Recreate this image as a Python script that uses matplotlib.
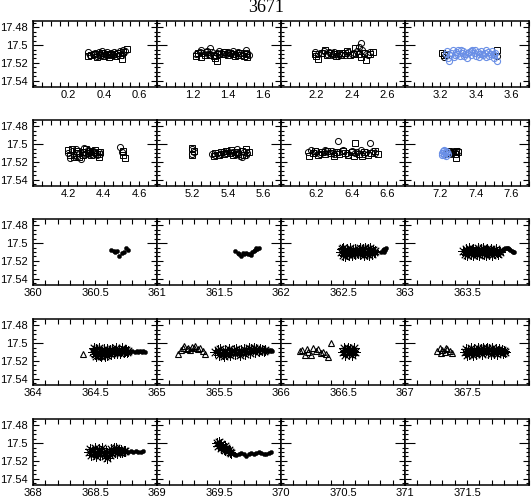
import matplotlib
matplotlib.use('Agg')
import matplotlib.pyplot as plt
from matplotlib.ticker import FixedLocator, MultipleLocator

plt.rcParams['font.family'] = ['Liberation Sans', 'DejaVu Sans']

# panel x-windows (start of each window)
row_starts = [[0, 1, 2, 3], [4, 5, 6, 7], [360, 361, 362, 363],
              [364, 365, 366, 367], [368, 369, 370, 371]]
row_spans = [0.7, 0.7, 1.0, 1.0, 1.0]
y_ticks = [17.48, 17.50, 17.52, 17.54]
y_labels = ['17.48', '17.5', '17.52', '17.54']

BLUE = '#6a8fe6'

# ---- rows 1-2: open circles / squares ----
c0x = [0.31, 0.32, 0.34, 0.35, 0.36, 0.37, 0.38, 0.39, 0.40, 0.41, 0.42, 0.43, 0.44, 0.45, 0.46, 0.47, 0.48, 0.49, 0.50, 0.51, 0.52]
c0y = [17.508, 17.511, 17.510, 17.509, 17.512, 17.508, 17.510, 17.507, 17.509, 17.511, 17.508, 17.510, 17.509, 17.511, 17.508, 17.510, 17.509, 17.507, 17.511, 17.506, 17.507]
s0x = [0.31, 0.33, 0.35, 0.36, 0.38, 0.39, 0.40, 0.42, 0.43, 0.44, 0.46, 0.47, 0.48, 0.49, 0.50, 0.51, 0.53]
s0y = [17.512, 17.511, 17.510, 17.513, 17.511, 17.509, 17.512, 17.510, 17.513, 17.511, 17.510, 17.512, 17.509, 17.511, 17.516, 17.508, 17.504]

c1x = [1.22, 1.24, 1.25, 1.26, 1.28, 1.29, 1.30, 1.31, 1.33, 1.34, 1.35, 1.36, 1.38, 1.39, 1.40, 1.42, 1.43, 1.44, 1.45, 1.46, 1.48, 1.49, 1.50, 1.51, 1.52]
c1y = [17.510, 17.508, 17.505, 17.509, 17.507, 17.510, 17.503, 17.508, 17.511, 17.509, 17.507, 17.509, 17.508, 17.510, 17.508, 17.509, 17.507, 17.510, 17.509, 17.508, 17.511, 17.509, 17.505, 17.509, 17.511]
s1x = [1.22, 1.23, 1.25, 1.27, 1.28, 1.30, 1.32, 1.33, 1.34, 1.35, 1.37, 1.38, 1.40, 1.41, 1.43, 1.44, 1.46, 1.47, 1.49, 1.50, 1.51]
s1y = [17.512, 17.509, 17.513, 17.511, 17.508, 17.511, 17.512, 17.514, 17.518, 17.510, 17.510, 17.508, 17.511, 17.509, 17.510, 17.512, 17.511, 17.509, 17.512, 17.510, 17.513]

c2x = [2.19, 2.21, 2.23, 2.24, 2.26, 2.27, 2.29, 2.30, 2.32, 2.33, 2.35, 2.36, 2.38, 2.40, 2.41, 2.43, 2.44, 2.45, 2.46, 2.47, 2.49, 2.50]
c2y = [17.508, 17.510, 17.509, 17.507, 17.510, 17.508, 17.511, 17.508, 17.512, 17.510, 17.509, 17.511, 17.508, 17.510, 17.509, 17.507, 17.502, 17.498, 17.505, 17.509, 17.511, 17.508]
s2x = [2.19, 2.20, 2.21, 2.23, 2.25, 2.26, 2.28, 2.30, 2.31, 2.33, 2.34, 2.36, 2.37, 2.39, 2.41, 2.42, 2.44, 2.45, 2.47, 2.48, 2.50, 2.52]
s2y = [17.510, 17.512, 17.516, 17.509, 17.506, 17.511, 17.509, 17.510, 17.512, 17.509, 17.511, 17.509, 17.507, 17.511, 17.510, 17.503, 17.510, 17.513, 17.509, 17.517, 17.510, 17.508]

c3x = [3.22, 3.52]
c3y = [17.513, 17.512]
s3x = [3.21, 3.22, 3.23, 3.52]
s3y = [17.509, 17.511, 17.510, 17.505]
b3x = [3.23, 3.24, 3.25, 3.26, 3.27, 3.28, 3.29, 3.30, 3.31, 3.32, 3.33, 3.34, 3.35, 3.36, 3.37, 3.38, 3.39, 3.40, 3.41, 3.42,
       3.43, 3.44, 3.45, 3.46, 3.47, 3.48, 3.49, 3.50, 3.51, 3.52, 3.235, 3.255, 3.275, 3.295, 3.315, 3.335, 3.355, 3.375,
       3.395, 3.415, 3.435, 3.455, 3.475, 3.495, 3.505]
b3y = [17.510, 17.514, 17.518, 17.509, 17.506, 17.511, 17.508, 17.505, 17.512, 17.509, 17.507, 17.510, 17.514, 17.508, 17.511, 17.506, 17.509, 17.512, 17.508, 17.510,
       17.507, 17.511, 17.509, 17.513, 17.508, 17.510, 17.507, 17.511, 17.509, 17.518, 17.507, 17.511, 17.513, 17.510, 17.506, 17.512, 17.509, 17.507,
       17.505, 17.513, 17.510, 17.506, 17.512, 17.510, 17.514]

c4x = [4.20, 4.21, 4.22, 4.23, 4.24, 4.25, 4.26, 4.27, 4.28, 4.29, 4.30, 4.31, 4.32, 4.33, 4.34, 4.35, 4.36, 4.37, 4.38, 4.49, 4.50]
c4y = [17.510, 17.516, 17.508, 17.512, 17.506, 17.514, 17.510, 17.517, 17.509, 17.504, 17.511, 17.507, 17.509, 17.511, 17.508, 17.510, 17.512, 17.509, 17.511, 17.503, 17.509]
s4x = [4.20, 4.21, 4.22, 4.23, 4.24, 4.25, 4.26, 4.28, 4.29, 4.30, 4.31, 4.32, 4.33, 4.34, 4.35, 4.36, 4.37, 4.38, 4.51, 4.51, 4.52]
s4y = [17.507, 17.512, 17.505, 17.514, 17.510, 17.508, 17.515, 17.512, 17.509, 17.506, 17.510, 17.508, 17.512, 17.509, 17.507, 17.511, 17.514, 17.509, 17.508, 17.512, 17.516]

c5x = [5.20, 5.20, 5.21, 5.31, 5.33, 5.34, 5.36, 5.37, 5.39, 5.40, 5.42, 5.43, 5.44, 5.45, 5.46, 5.47, 5.48, 5.49, 5.50, 5.51]
c5y = [17.506, 17.511, 17.509, 17.511, 17.512, 17.510, 17.511, 17.509, 17.510, 17.508, 17.510, 17.509, 17.511, 17.506, 17.510, 17.513, 17.515, 17.509, 17.512, 17.510]
s5x = [5.20, 5.21, 5.20, 5.32, 5.33, 5.35, 5.36, 5.38, 5.39, 5.41, 5.42, 5.43, 5.45, 5.46, 5.48, 5.49, 5.50, 5.52]
s5y = [17.504, 17.508, 17.512, 17.513, 17.510, 17.512, 17.509, 17.511, 17.508, 17.510, 17.507, 17.512, 17.509, 17.511, 17.508, 17.512, 17.505, 17.509]

c6x = [6.15, 6.17, 6.19, 6.20, 6.22, 6.24, 6.25, 6.27, 6.29, 6.30, 6.32, 6.33, 6.35, 6.37, 6.38, 6.40, 6.42, 6.43, 6.45, 6.47, 6.48, 6.50, 6.52, 6.53]
c6y = [17.509, 17.507, 17.510, 17.508, 17.511, 17.509, 17.507, 17.510, 17.508, 17.511, 17.497, 17.509, 17.507, 17.510, 17.512, 17.508, 17.510, 17.509, 17.507, 17.511, 17.509, 17.499, 17.508, 17.510]
s6x = [6.16, 6.18, 6.19, 6.21, 6.23, 6.25, 6.26, 6.28, 6.30, 6.31, 6.33, 6.35, 6.36, 6.38, 6.40, 6.41, 6.42, 6.44, 6.46, 6.47, 6.49, 6.51, 6.53, 6.55]
s6y = [17.513, 17.510, 17.508, 17.512, 17.509, 17.511, 17.508, 17.510, 17.513, 17.509, 17.511, 17.508, 17.510, 17.512, 17.509, 17.513, 17.499, 17.511, 17.513, 17.509, 17.512, 17.510, 17.508, 17.511]

c7x = [7.26, 7.28, 7.30]
c7y = [17.510, 17.509, 17.508]
s7x = [7.24, 7.25, 7.26, 7.27, 7.28, 7.29, 7.30, 7.29]
s7y = [17.511, 17.508, 17.510, 17.509, 17.511, 17.508, 17.509, 17.516]
b7x = [7.21, 7.215, 7.22, 7.22, 7.225, 7.23, 7.235, 7.24, 7.21, 7.23]
b7y = [17.510, 17.508, 17.512, 17.507, 17.510, 17.513, 17.509, 17.511, 17.512, 17.508]

# ---- rows 3-5: dots, asterisks, triangles ----
d360x = [360.63, 360.65, 360.66, 360.68, 360.69, 360.72, 360.73, 360.75, 360.77]
d360y = [17.508, 17.509, 17.510, 17.509, 17.514, 17.511, 17.510, 17.506, 17.508]
d361x = [361.63, 361.65, 361.66, 361.68, 361.69, 361.70, 361.72, 361.73, 361.75, 361.76, 361.77, 361.78, 361.79, 361.80, 361.81, 361.82]
d361y = [17.509, 17.511, 17.512, 17.515, 17.511, 17.512, 17.511, 17.512, 17.512, 17.513, 17.510, 17.509, 17.508, 17.506, 17.507, 17.506]

a362x = [362.48, 362.49, 362.50, 362.50, 362.51, 362.52, 362.53, 362.53, 362.54, 362.55, 362.56, 362.56, 362.57, 362.58, 362.59, 362.60, 362.60, 362.61,
         362.62, 362.63, 362.64, 362.64, 362.65, 362.66, 362.67, 362.68, 362.68, 362.69, 362.70, 362.71, 362.72, 362.72, 362.73, 362.74, 362.75, 362.76]
a362y = [17.510, 17.507, 17.513, 17.506, 17.510, 17.514, 17.507, 17.512, 17.509, 17.513, 17.506, 17.510, 17.513, 17.508, 17.511, 17.507, 17.512, 17.510,
         17.511, 17.508, 17.506, 17.512, 17.510, 17.507, 17.513, 17.506, 17.510, 17.512, 17.507, 17.513, 17.509, 17.506, 17.512, 17.508, 17.510, 17.509]
d362x = [362.81, 362.82, 362.83, 362.84, 362.85, 362.83]
d362y = [17.510, 17.508, 17.507, 17.508, 17.506, 17.510]

a363x = [363.47, 363.48, 363.49, 363.50, 363.50, 363.51, 363.52, 363.53, 363.54, 363.55, 363.55, 363.56, 363.57, 363.58, 363.59, 363.60, 363.60, 363.61,
         363.62, 363.63, 363.64, 363.65, 363.65, 363.66, 363.67, 363.68, 363.69, 363.70, 363.70, 363.71, 363.72, 363.73, 363.74, 363.75, 363.76, 363.77]
a363y = [17.509, 17.512, 17.507, 17.513, 17.509, 17.510, 17.506, 17.512, 17.509, 17.513, 17.507, 17.510, 17.509, 17.512, 17.506, 17.510, 17.513, 17.507,
         17.510, 17.506, 17.512, 17.509, 17.513, 17.507, 17.510, 17.512, 17.507, 17.510, 17.513, 17.509, 17.511, 17.507, 17.510, 17.512, 17.509, 17.510]
d363x = [363.78, 363.79, 363.80, 363.81, 363.82, 363.83, 363.84, 363.85, 363.86, 363.87, 363.88]
d363y = [17.509, 17.508, 17.507, 17.506, 17.505, 17.506, 17.507, 17.508, 17.509, 17.510, 17.510]

t364x = [364.40]
t364y = [17.512]
a364x = [364.48, 364.49, 364.50, 364.51, 364.51, 364.52, 364.53, 364.54, 364.55, 364.55, 364.56, 364.57, 364.58, 364.59, 364.60, 364.60, 364.61,
         364.62, 364.63, 364.64, 364.65, 364.66, 364.67, 364.68, 364.69, 364.70, 364.71, 364.72, 364.73, 364.74, 364.75, 364.76, 364.77]
a364y = [17.510, 17.506, 17.512, 17.507, 17.514, 17.510, 17.505, 17.513, 17.509, 17.515, 17.511, 17.507, 17.514, 17.510, 17.513, 17.507, 17.511,
         17.508, 17.512, 17.507, 17.511, 17.509, 17.506, 17.511, 17.508, 17.511, 17.509, 17.506, 17.510, 17.509, 17.508, 17.510, 17.509]
d364x = [364.78, 364.80, 364.82, 364.84, 364.85, 364.86, 364.88, 364.89, 364.90]
d364y = [17.510, 17.509, 17.510, 17.509, 17.510, 17.509, 17.510, 17.509, 17.510]

t365x = [365.17, 365.19, 365.21, 365.22, 365.24, 365.25, 365.27, 365.28, 365.30, 365.31, 365.33, 365.35, 365.37, 365.39]
t365y = [17.512, 17.508, 17.506, 17.503, 17.507, 17.505, 17.508, 17.504, 17.506, 17.503, 17.507, 17.505, 17.509, 17.512]
a365x = [365.47, 365.49, 365.50, 365.51, 365.53, 365.54, 365.55, 365.56, 365.58, 365.59, 365.60, 365.62, 365.63, 365.64, 365.66, 365.67,
         365.68, 365.70, 365.71, 365.72, 365.74, 365.75, 365.76, 365.78, 365.79, 365.80, 365.82, 365.83, 365.85, 365.86, 365.87]
a365y = [17.510, 17.508, 17.513, 17.507, 17.512, 17.514, 17.508, 17.512, 17.507, 17.513, 17.510, 17.508, 17.512, 17.507, 17.510, 17.513,
         17.508, 17.507, 17.512, 17.509, 17.506, 17.511, 17.507, 17.506, 17.510, 17.507, 17.509, 17.507, 17.508, 17.509, 17.508]
d365x = [365.87, 365.88, 365.89, 365.90, 365.91, 365.92, 365.93]
d365y = [17.509, 17.508, 17.509, 17.508, 17.509, 17.508, 17.509]

t366x = [366.15, 366.17, 366.19, 366.21, 366.22, 366.24, 366.26, 366.28, 366.30, 366.32, 366.34, 366.36, 366.38, 366.40]
t366y = [17.509, 17.508, 17.513, 17.507, 17.510, 17.513, 17.505, 17.509, 17.507, 17.511, 17.510, 17.512, 17.516, 17.500]
a366x = [366.50, 366.51, 366.52, 366.53, 366.54, 366.55, 366.56, 366.57, 366.58, 366.59, 366.60, 366.52, 366.55, 366.58]
a366y = [17.510, 17.506, 17.513, 17.508, 17.505, 17.512, 17.507, 17.513, 17.509, 17.506, 17.510, 17.509, 17.509, 17.510]

t367x = [367.26, 367.28, 367.30, 367.32, 367.34, 367.36, 367.38, 367.29, 367.33]
t367y = [17.509, 17.506, 17.508, 17.510, 17.507, 17.509, 17.511, 17.511, 17.505]
a367x = [367.48, 367.49, 367.50, 367.51, 367.52, 367.53, 367.54, 367.55, 367.56, 367.57, 367.58, 367.59, 367.60, 367.61, 367.62, 367.63, 367.64,
         367.65, 367.66, 367.67, 367.68, 367.69, 367.70, 367.71, 367.72, 367.73, 367.74, 367.75, 367.76, 367.77, 367.78, 367.79, 367.80, 367.81]
a367y = [17.510, 17.507, 17.513, 17.509, 17.512, 17.506, 17.510, 17.513, 17.507, 17.512, 17.509, 17.506, 17.510, 17.507, 17.512, 17.505, 17.509,
         17.507, 17.506, 17.511, 17.507, 17.512, 17.506, 17.509, 17.511, 17.507, 17.512, 17.509, 17.507, 17.510, 17.508, 17.511, 17.509, 17.510]

a368x = [368.45, 368.46, 368.47, 368.48, 368.49, 368.50, 368.51, 368.52, 368.53, 368.54, 368.55, 368.56, 368.57, 368.58, 368.59,
         368.60, 368.61, 368.62, 368.63, 368.64, 368.65, 368.66, 368.67, 368.68, 368.69, 368.70, 368.71, 368.72, 368.73, 368.74]
a368y = [17.510, 17.507, 17.513, 17.509, 17.512, 17.506, 17.514, 17.510, 17.507, 17.513, 17.509, 17.505, 17.511, 17.514, 17.509,
         17.517, 17.510, 17.513, 17.507, 17.511, 17.506, 17.510, 17.506, 17.511, 17.508, 17.510, 17.508, 17.510, 17.509, 17.509]
d368x = [368.75, 368.77, 368.79, 368.81, 368.83, 368.85, 368.87, 368.89]
d368y = [17.509, 17.510, 17.509, 17.510, 17.509, 17.510, 17.510, 17.509]

a369x = [369.48, 369.49, 369.50, 369.51, 369.52, 369.52, 369.53, 369.54, 369.55, 369.55, 369.56, 369.57, 369.58, 369.59, 369.60]
a369y = [17.500, 17.503, 17.499, 17.502, 17.505, 17.501, 17.504, 17.507, 17.503, 17.508, 17.506, 17.509, 17.508, 17.510, 17.511]
d369x = [369.60, 369.62, 369.64, 369.66, 369.68, 369.70, 369.72, 369.74, 369.76, 369.78, 369.80, 369.82, 369.84, 369.86, 369.88, 369.90, 369.92]
d369y = [17.511, 17.512, 17.513, 17.512, 17.511, 17.512, 17.514, 17.512, 17.511, 17.512, 17.511, 17.510, 17.511, 17.512, 17.512, 17.511, 17.510]

# what goes in each panel: (x, y, kind)
panels = {
    (0, 0): [(c0x, c0y, 'circ'), (s0x, s0y, 'sq')],
    (0, 1): [(c1x, c1y, 'circ'), (s1x, s1y, 'sq')],
    (0, 2): [(c2x, c2y, 'circ'), (s2x, s2y, 'sq')],
    (0, 3): [(c3x, c3y, 'circ'), (s3x, s3y, 'sq'), (b3x, b3y, 'blue')],
    (1, 0): [(c4x, c4y, 'circ'), (s4x, s4y, 'sq')],
    (1, 1): [(c5x, c5y, 'circ'), (s5x, s5y, 'sq')],
    (1, 2): [(c6x, c6y, 'circ'), (s6x, s6y, 'sq')],
    (1, 3): [(c7x, c7y, 'circ'), (s7x, s7y, 'sq'), (b7x, b7y, 'blue')],
    (2, 0): [(d360x, d360y, 'dot')],
    (2, 1): [(d361x, d361y, 'dot')],
    (2, 2): [(a362x, a362y, 'ast'), (d362x, d362y, 'dot')],
    (2, 3): [(a363x, a363y, 'ast'), (d363x, d363y, 'dot')],
    (3, 0): [(t364x, t364y, 'tri'), (a364x, a364y, 'ast'), (d364x, d364y, 'dot')],
    (3, 1): [(t365x, t365y, 'tri'), (a365x, a365y, 'ast'), (d365x, d365y, 'dot')],
    (3, 2): [(t366x, t366y, 'tri'), (a366x, a366y, 'ast')],
    (3, 3): [(t367x, t367y, 'tri'), (a367x, a367y, 'ast')],
    (4, 0): [(a368x, a368y, 'ast'), (d368x, d368y, 'dot')],
    (4, 1): [(a369x, a369y, 'ast'), (d369x, d369y, 'dot')],
}

styles = {
    'circ': dict(marker='o', ms=4.4, mfc='none', mec='black', mew=0.7),
    'sq':   dict(marker='s', ms=3.8, mfc='none', mec='black', mew=0.7),
    'blue': dict(marker='o', ms=4.4, mfc='none', mec=BLUE, mew=0.8),
    'dot':  dict(marker='o', ms=3.0, mfc='black', mec='black', mew=0.3),
    'tri':  dict(marker='^', ms=4.8, mfc='none', mec='black', mew=0.8),
    'ast':  dict(marker=(8, 2, 0), ms=7.5, mfc='black', mec='black', mew=0.6),
}

W, H = 532, 499
fig = plt.figure(figsize=(W / 100, H / 100), dpi=100)

left0 = 33
pw, ph = 124, 66
row_tops = [21, 120, 219, 319, 419]

for r in range(5):
    for c in range(4):
        x0 = row_starts[r][c]
        ax = fig.add_axes([(left0 + c * pw) / W, 1 - (row_tops[r] + ph) / H, pw / W, ph / H])
        for xs, ys, kind in panels.get((r, c), []):
            ax.plot(xs, ys, ls='none', **styles[kind])
        ax.set_xlim(x0, x0 + row_spans[r])
        ax.set_ylim(17.547, 17.473)

        if r < 2:
            ax.xaxis.set_major_locator(FixedLocator([x0 + 0.2, x0 + 0.4, x0 + 0.6]))
            ax.xaxis.set_minor_locator(MultipleLocator(0.05))
            ax.set_xticklabels(['%g' % round(x0 + v, 1) for v in (0.2, 0.4, 0.6)])
        else:
            ax.xaxis.set_major_locator(FixedLocator([x0, x0 + 0.5]))
            ax.xaxis.set_minor_locator(MultipleLocator(0.1))
            ax.set_xticklabels(['%g' % x0, '%g' % (x0 + 0.5)])

        ax.yaxis.set_major_locator(FixedLocator(y_ticks))
        ax.yaxis.set_minor_locator(MultipleLocator(0.005))
        if c == 0:
            ax.set_yticklabels(y_labels)
        else:
            ax.set_yticklabels([])

        ax.tick_params(which='both', direction='in', top=True, right=True, width=0.8, labelsize=8)
        ax.tick_params(axis='x', which='both', length=3.5, pad=2)
        ax.tick_params(axis='y', which='major', length=4, pad=4)
        ax.tick_params(axis='y', which='minor', length=2.5)
        t = ax.yaxis.get_major_ticks()[1]
        t.tick1line.set_markersize(7)
        t.tick2line.set_markersize(7)
        for s in ax.spines.values():
            s.set_linewidth(1.1)

fig.text(266 / W, 1 - 8 / H, '3671', ha='center', va='center', fontsize=13, family=['Liberation Serif', 'DejaVu Serif'])

fig.savefig('out.png', dpi=100)
